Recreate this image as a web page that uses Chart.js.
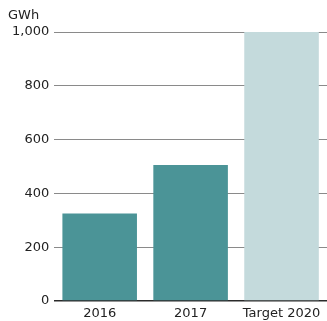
<!DOCTYPE html>
<html>
<head>
<meta charset="utf-8">
<script src="https://cdn.jsdelivr.net/npm/chart.js@4"></script>
<style>
  html, body { margin: 0; padding: 0; background: #fff; }
  #wrap { position: relative; width: 327px; height: 321px; }
</style>
</head>
<body>
<div id="wrap"><canvas id="myChart"></canvas></div>
<script>
const categories = ['2016', '2017', 'Target 2020'];
const generation = [325, 506, 1000];
const unitLabel = 'GWh';

const barColors = ['#4b9497', '#4b9497', '#c4dadc'];

// draws the unit above the y axis labels
const unitPlugin = {
  id: 'unitLabel',
  afterDraw(chart) {
    const c = chart.ctx;
    c.save();
    c.font = '13px "DejaVu Sans"';
    c.fillStyle = '#222';
    c.textBaseline = 'middle';
    c.textAlign = 'left';
    c.fillText(unitLabel, 8, 16);
    c.restore();
  }
};

const ctx = document.getElementById('myChart').getContext('2d');
const myChart = new Chart(ctx, {
  type: 'bar',
  data: {
    labels: categories,
    datasets: [{
      data: generation,
      backgroundColor: barColors,
      borderWidth: 0,
      barPercentage: 0.82,
      categoryPercentage: 1
    }]
  },
  options: {
    responsive: true,
    maintainAspectRatio: false,
    animation: false,
    layout: { padding: { top: 32, left: 7, right: 0, bottom: 0 } },
    plugins: {
      legend: { display: false },
      tooltip: { enabled: false }
    },
    scales: {
      x: {
        grid: { display: false, drawTicks: false },
        border: { display: false },
        // keep the label strip tight under the zero line
        afterFit: scale => { scale.height = 20; },
        ticks: {
          color: '#222',
          font: { family: 'DejaVu Sans', size: 13, lineHeight: 1 },
          padding: 6,
          maxRotation: 0,
          autoSkip: false
        }
      },
      y: {
        min: 0,
        max: 1000,
        border: { display: false },
        grid: {
          drawTicks: false,
          color: c => c.tick && c.tick.value === 0 ? '#2a2a2a' : '#8a8a8a',
          lineWidth: c => c.tick && c.tick.value === 0 ? 1.5 : 1
        },
        ticks: {
          stepSize: 200,
          color: '#222',
          padding: 5,
          font: { family: 'DejaVu Sans', size: 13 },
          callback: v => v.toLocaleString('en-US')
        }
      }
    }
  },
  plugins: [unitPlugin]
});
</script>
</body>
</html>
